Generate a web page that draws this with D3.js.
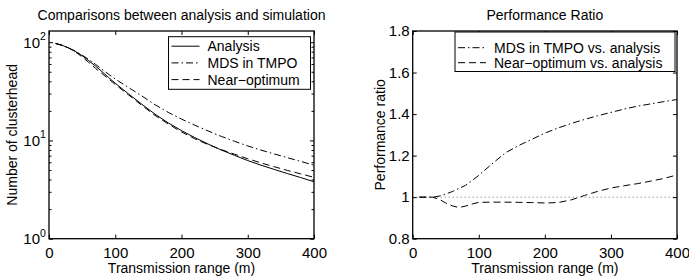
<!DOCTYPE html>
<html>
<head>
<meta charset="utf-8">
<script src="https://cdn.jsdelivr.net/npm/d3@7"></script>
<style>
  html, body { margin: 0; padding: 0; background: #fff; }
  svg { display: block; font-family: "Liberation Sans", Arial, sans-serif; }
</style>
</head>
<body>
<svg id="chart" width="689" height="276"></svg>
<script>
// Transmission range (m) of each simulation point
const rangeM = [10, 20, 30, 40, 50, 60, 70, 80, 90, 100, 120, 140, 160, 180, 200,
                220, 240, 260, 280, 300, 320, 340, 360, 380, 400];

// Number of clusterheads (left panel)
const analysis    = [97, 92.9, 87.1, 80.4, 72.8, 64.9, 57.3, 50.1, 43.7, 38.2, 29.8, 23.4, 18.5, 15.1, 12.6,
                     10.7, 9.2, 8.0, 7.05, 6.24, 5.6, 5.07, 4.6, 4.19, 3.8];
const mdsTmpo     = [97, 92.9, 87.1, 80.8, 73.9, 66.7, 59.7, 53.0, 47.2, 42.2, 34.6, 28.4, 23.1, 19.3, 16.5,
                     14.3, 12.5, 11.0, 9.81, 8.79, 7.97, 7.29, 6.67, 6.12, 5.59];
const nearOptimum = [97, 92.9, 87.1, 79.6, 70.8, 62.2, 54.4, 47.9, 42.3, 37.2, 29.1, 22.8, 18.0, 14.7, 12.2,
                     10.4, 9.08, 8.06, 7.25, 6.51, 5.91, 5.40, 4.95, 4.57, 4.21];

// Performance ratio (right panel)
const mdsRatio  = [1.0, 1.0, 1.0, 1.005, 1.015, 1.027, 1.042, 1.057, 1.08, 1.105, 1.16, 1.213, 1.248, 1.278, 1.308,
                   1.333, 1.355, 1.374, 1.392, 1.408, 1.424, 1.438, 1.449, 1.46, 1.47];
const nearRatio = [1.0, 1.0, 1.0, 0.99, 0.972, 0.958, 0.95, 0.957, 0.967, 0.975, 0.976, 0.976, 0.975, 0.974, 0.972,
                   0.974, 0.987, 1.008, 1.028, 1.044, 1.055, 1.065, 1.077, 1.09, 1.107];
const unityRange = [0, 400];
const unityRatio = [1, 1];

// Axis ticks
const xTicks = [0, 100, 200, 300, 400];
const logTicks = [1, 10, 100];
const logMinorTicks = [2, 3, 4, 5, 6, 7, 8, 9, 20, 30, 40, 50, 60, 70, 80, 90];
const ratioTicks = [0.8, 1, 1.2, 1.4, 1.6, 1.8];

const svg = d3.select('#chart');

const zip = (xs, ys) => xs.map((x, i) => [x, ys[i]]);

class LinePanel {
    constructor(_config, _series) {
        this.config = _config;
        this.series = _series;
        this.initVis();
    }

    initVis() {
        let vis = this;
        const c = vis.config;

        vis.g = svg.append('g');
        vis.x = d3.scaleLinear().domain([0, 400]).range([c.left, c.right]);
        vis.y = (c.log ? d3.scaleLog() : d3.scaleLinear())
            .domain(c.yDomain)
            .range([c.bottom, c.top]);
        vis.line = d3.line()
            .x(d => vis.x(d[0]))
            .y(d => vis.y(d[1]));

        vis.renderVis();
    }

    renderVis() {
        let vis = this;
        const c = vis.config;
        const tickFont = 15;

        // data lines
        vis.g.selectAll('path.series')
            .data(vis.series)
            .join('path')
                .attr('class', 'series')
                .attr('d', d => vis.line(d.points))
                .attr('fill', 'none')
                .attr('stroke', d => d.colour || '#000')
                .attr('stroke-width', 1)
                .attr('stroke-dasharray', d => d.dash);

        // axes, ticks pointing inward
        const tidy = g => { g.select('.domain').remove(); g.selectAll('line').attr('stroke', '#000'); };

        vis.g.append('g')
            .attr('transform', `translate(0,${c.bottom})`)
            .call(d3.axisBottom(vis.x).tickValues(xTicks).tickSize(-4).tickPadding(9))
            .call(tidy)
            .call(g => g.selectAll('text').attr('font-size', tickFont).attr('font-family', null).attr('fill', '#000'));

        vis.g.append('g')
            .attr('transform', `translate(0,${c.top})`)
            .call(d3.axisTop(vis.x).tickValues(xTicks).tickSize(-4).tickFormat(''))
            .call(tidy);

        const yFormat = c.log ? () => '' : d => d3.format('')(d);
        vis.g.append('g')
            .attr('transform', `translate(${c.left},0)`)
            .call(d3.axisLeft(vis.y).tickValues(c.yTicks).tickSize(-4).tickPadding(3).tickFormat(yFormat))
            .call(tidy)
            .call(g => g.selectAll('text').attr('font-size', tickFont).attr('font-family', null).attr('fill', '#000'));

        vis.g.append('g')
            .attr('transform', `translate(${c.right},0)`)
            .call(d3.axisRight(vis.y).tickValues(c.yTicks).tickSize(-4).tickFormat(''))
            .call(tidy);

        if (c.log) {
            vis.g.append('g')
                .attr('transform', `translate(${c.left},0)`)
                .call(d3.axisLeft(vis.y).tickValues(logMinorTicks).tickSize(-2.5).tickFormat(''))
                .call(tidy);
            vis.g.append('g')
                .attr('transform', `translate(${c.right},0)`)
                .call(d3.axisRight(vis.y).tickValues(logMinorTicks).tickSize(-2.5).tickFormat(''))
                .call(tidy);

            // 10^n labels
            vis.g.selectAll('text.pow')
                .data(logTicks)
                .join('text')
                    .attr('class', 'pow')
                    .attr('x', c.left - 9)
                    .attr('y', d => vis.y(d) + 5.5)
                    .attr('text-anchor', 'end')
                    .attr('font-size', tickFont)
                    .text('10');
            vis.g.selectAll('text.exp')
                .data(logTicks)
                .join('text')
                    .attr('class', 'exp')
                    .attr('x', c.left - 9)
                    .attr('y', d => vis.y(d) - 2)
                    .attr('font-size', 10.5)
                    .text(d => Math.round(Math.log10(d)));
        }

        // box
        vis.g.append('rect')
            .attr('x', c.left)
            .attr('y', c.top)
            .attr('width', c.right - c.left)
            .attr('height', c.bottom - c.top)
            .attr('fill', 'none')
            .attr('stroke', '#000')
            .attr('stroke-width', 1.3);

        // title and labels
        vis.g.append('text')
            .attr('x', (c.left + c.right) / 2)
            .attr('y', 20)
            .attr('text-anchor', 'middle')
            .attr('font-size', 14)
            .text(c.title);

        vis.g.append('text')
            .attr('x', (c.left + c.right) / 2)
            .attr('y', 273)
            .attr('text-anchor', 'middle')
            .attr('font-size', 14)
            .text('Transmission range (m)');

        vis.g.append('text')
            .attr('transform', `translate(${c.yLabelX},${(c.top + c.bottom) / 2}) rotate(-90)`)
            .attr('text-anchor', 'middle')
            .attr('dy', '0.35em')
            .attr('font-size', 14)
            .text(c.yLabel);

        // legend
        const L = c.legend;
        const leg = vis.g.append('g').attr('transform', `translate(${L.x},${L.y})`);
        leg.append('rect')
            .attr('width', L.width)
            .attr('height', L.height)
            .attr('fill', '#fff')
            .attr('stroke', '#000')
            .attr('stroke-width', 1);
        const rows = leg.selectAll('g.row')
            .data(vis.series.filter(d => d.label))
            .join('g')
                .attr('class', 'row')
                .attr('transform', (d, i) => `translate(0,${L.firstRow + i * L.rowStep})`);
        rows.append('line')
            .attr('x1', 3).attr('x2', 31)
            .attr('stroke', '#000')
            .attr('stroke-width', 1)
            .attr('stroke-dasharray', d => d.dash);
        rows.append('text')
            .attr('x', 39)
            .attr('dy', '0.35em')
            .attr('font-size', 14)
            .text(d => d.label);
    }
}

new LinePanel({
    left: 49, right: 314, top: 31, bottom: 238.7,
    log: true, yDomain: [1, 130], yTicks: logTicks,
    title: 'Comparisons between analysis and simulation',
    yLabel: 'Number of clusterhead', yLabelX: 12.5,
    legend: {x: 168.5, y: 36.7, width: 142, height: 52.6, firstRow: 9.5, rowStep: 16.7}
}, [
    {label: 'Analysis', points: zip(rangeM, analysis), dash: null},
    {label: 'MDS in TMPO', points: zip(rangeM, mdsTmpo), dash: '7,3,1.5,3'},
    {label: 'Near\u2212optimum', points: zip(rangeM, nearOptimum), dash: '7,4'}
]);

new LinePanel({
    left: 412.7, right: 677, top: 31, bottom: 238.7,
    log: false, yDomain: [0.8, 1.8], yTicks: ratioTicks,
    title: 'Performance Ratio',
    yLabel: 'Performance ratio', yLabelX: 380,
    legend: {x: 455, y: 32, width: 220, height: 39.5, firstRow: 15.7, rowStep: 15}
}, [
    {label: null, points: zip(unityRange, unityRatio), dash: '1,3', colour: '#666'},
    {label: 'MDS in TMPO vs. analysis', points: zip(rangeM, mdsRatio), dash: '7,3,1.5,3'},
    {label: 'Near\u2212optimum vs. analysis', points: zip(rangeM, nearRatio), dash: '7,4'}
]);
</script>
</body>
</html>
